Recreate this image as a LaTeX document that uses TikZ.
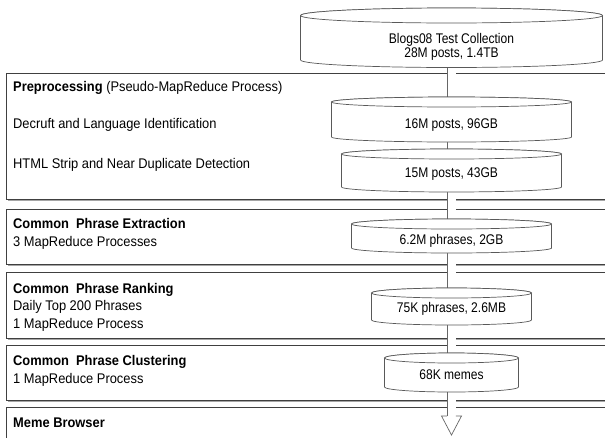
\documentclass[tikz,border=0pt]{standalone}
\usepackage{fontspec}
\setmainfont{Liberation Sans}[FakeStretch=0.92]
\newfontfamily\cylfont{Liberation Sans}[FakeStretch=0.86]
\usetikzlibrary{shadows,calc}
\pgfdeclarelayer{boxes}
\pgfdeclarelayer{pipes}
\pgfdeclarelayer{cyls}
\pgfsetlayers{boxes,pipes,cyls,main}
\tikzset{
  box/.style={draw=black!75, line width=0.9pt, fill=white, inner sep=0pt, anchor=north west, minimum width=700pt,
    drop shadow={shadow xshift=1.3pt, shadow yshift=-1.3pt, fill=black!35, opacity=1}},
  pipe/.style={draw=black!60, line width=0.7pt, double=white, double distance=8pt},
  lbl/.style={anchor=west, inner sep=0pt, align=left, font=\fontsize{14}{17.5}\selectfont},
  cyltext/.style={inner sep=0pt, align=center, font=\cylfont\fontsize{14}{13}\selectfont},
  cylline/.style={draw=black!65, line width=0.7pt, fill=white},
}
\newcommand\drawcyl[5]{%
  \path[cylline] ({#1-#2},#3) -- ({#1-#2},#4) arc[start angle=180,end angle=360,x radius=#2pt,y radius=#5pt]
     -- ({#1+#2},#3) arc[start angle=0,end angle=180,x radius=#2pt,y radius=#5pt] -- cycle;
  \path[cylline] (#1,#3) ellipse[x radius=#2pt, y radius=#5pt];
}
\begin{document}
\begin{tikzpicture}[x=1pt,y=-1pt]
\useasboundingbox (0,0) rectangle (605,437);
% boxes
\begin{pgfonlayer}{boxes}
\node[box, minimum height=126pt] (b1) at (6,73) {};
\node[box, minimum height=55pt] (b2) at (6,209) {};
\node[box, minimum height=66pt] (b3) at (6,272) {};
\node[box, minimum height=55pt] (b4) at (6,345) {};
\node[box, minimum height=60pt] (b5) at (6,407) {};
\end{pgfonlayer}
% labels
\node[lbl] (t1a) at (13,88) {\textbf{Preprocessing} (Pseudo-MapReduce Process)};
\node[lbl] (t1b) at (13,125) {Decruft and Language Identification};
\node[lbl] (t1c) at (13,165) {HTML Strip and Near Duplicate Detection};
\node[lbl] (t2) at (13,234) {\textbf{Common\ \ Phrase Extraction}\\3 MapReduce Processes};
\node[lbl] (t3) at (13,307) {\textbf{Common\ \ Phrase Ranking}\\Daily Top 200 Phrases\\1 MapReduce Process};
\node[lbl] (t4) at (13,371) {\textbf{Common\ \ Phrase Clustering}\\1 MapReduce Process};
\node[lbl] (t5) at (13,423) {\textbf{Meme Browser}};
% cylinders (text nodes)
\node[cyltext] (c1) at (451.5,47) {Blogs08 Test Collection\\[1pt]28M posts, 1.4TB};
\node[cyltext] (c2) at (451.5,125) {16M posts, 96GB};
\node[cyltext] (c3) at (451.5,174) {15M posts, 43GB};
\node[cyltext] (c4) at (451.5,241) {6.2M phrases, 2GB};
\node[cyltext] (c5) at (451.5,309) {75K phrases, 2.6MB};
\node[cyltext] (c6) at (451.5,375) {68K memes};
\coordinate (headtop) at (451.5,416);
\coordinate (tip) at (451.5,435);
\begin{pgfonlayer}{cyls}
\drawcyl{451.5}{151}{15.5}{60}{7.5}
\drawcyl{451.5}{120}{102}{137}{5}
\drawcyl{451.5}{110}{154}{187}{5}
\drawcyl{451.5}{100}{224}{248}{5}
\drawcyl{451.5}{80}{293}{320}{5}
\drawcyl{451.5}{67}{358}{387}{5}
\end{pgfonlayer}
\begin{pgfonlayer}{pipes}
\draw[pipe] (c1.center) -- (c2.center);
\draw[pipe] (c2.center) -- (c3.center);
\draw[pipe] (c3.center) -- (c4.center);
\draw[pipe] (c4.center) -- (c5.center);
\draw[pipe] (c5.center) -- (c6.center);
\draw[pipe] (c6.center) -- (headtop);
\fill[white] (tip) -- ++(-10,-19) -- ++(20,0) -- cycle;
\draw[draw=black!60, line width=0.7pt] ($(headtop)+(-4.35,0)$) -- ++(-5.65,0) -- (tip) -- ++(10,-19) -- ++(-5.65,0);
\end{pgfonlayer}
\end{tikzpicture}
\end{document}
